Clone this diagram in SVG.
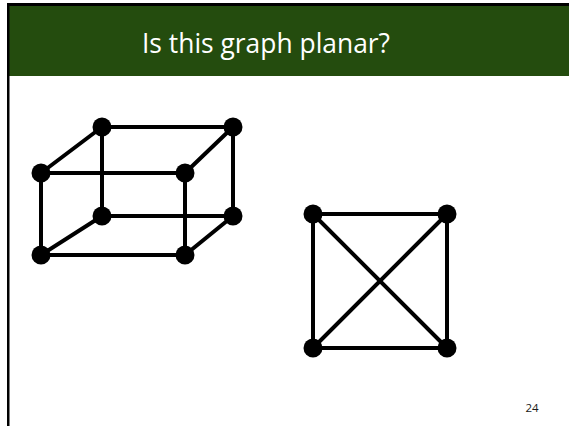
<svg xmlns="http://www.w3.org/2000/svg" width="569" height="426" viewBox="0 0 569 426">
<style>
.e{stroke:#000;stroke-width:4;fill:none;stroke-linecap:round}
.n{fill:#000}
.t{font-family:"Open Sans","Liberation Sans",sans-serif;fill:#fff}
.p{font-family:"Open Sans","Liberation Sans",sans-serif;fill:#1a1a1a;font-size:11.5px}
</style>
<rect x="0" y="0" width="569" height="426" fill="#fff"/>
<rect x="7" y="4" width="562" height="72" fill="#244c0e"/>
<rect x="7" y="3" width="562" height="3" fill="#000"/>
<rect x="7" y="3" width="2.5" height="423" fill="#000"/>
<text class="t" x="266" y="53" font-size="28" text-anchor="middle" textLength="248" lengthAdjust="spacingAndGlyphs">Is this graph planar?</text>
<g id="connectors">
<path class="e" d="M41,173H185V255H41Z"/>
<path class="e" d="M102,127H233V216H102Z"/>
<path class="e" d="M41,173L102,127M185,173L233,127M185,255L233,216M41,255L102,216"/>
<path class="e" d="M313,214H447V348H313Z"/>
<path class="e" d="M313,214L447,348M447,214L313,348"/>
</g>
<g id="cube-tbl"><circle class="n" cx="102" cy="127" r="9.5"/></g>
<g id="cube-tbr"><circle class="n" cx="233" cy="127" r="9.5"/></g>
<g id="cube-tfl"><circle class="n" cx="41" cy="173" r="9.5"/></g>
<g id="cube-tfr"><circle class="n" cx="185" cy="173" r="9.5"/></g>
<g id="cube-bbl"><circle class="n" cx="102" cy="216" r="9.5"/></g>
<g id="cube-bbr"><circle class="n" cx="233" cy="216" r="9.5"/></g>
<g id="cube-bfl"><circle class="n" cx="41" cy="255" r="9.5"/></g>
<g id="cube-bfr"><circle class="n" cx="185" cy="255" r="9.5"/></g>
<g id="k4-tl"><circle class="n" cx="313" cy="214" r="9.5"/></g>
<g id="k4-tr"><circle class="n" cx="447" cy="214" r="9.5"/></g>
<g id="k4-bl"><circle class="n" cx="313" cy="348" r="9.5"/></g>
<g id="k4-br"><circle class="n" cx="447" cy="348" r="9.5"/></g>
<text class="p" x="532" y="412" text-anchor="middle">24</text>
</svg>
